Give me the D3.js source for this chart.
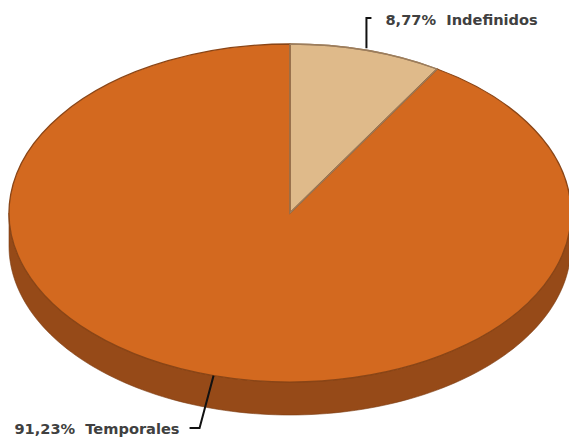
<!DOCTYPE html>
<html><head><meta charset="utf-8">
<script src="https://cdn.jsdelivr.net/npm/d3@7"></script>
<style>body{margin:0;background:#fff}svg{display:block}</style>
</head><body>
<svg id="c" width="569" height="438"></svg>
<script>
const categories = ["Indefinidos", "Temporales"];
const values = [8.77, 91.23];
const labels = ["8,77%", "91,23%"];
const colors = ["#DFBA8A", "#D3691F"];
const strokes = ["#9C7D5C", "#8A4516"];
const sideColor = "#964A18";

const W = 569, H = 438;
const cx = 290, cy = 213, rx = 281, ry = 169, depth = 33;
const svg = d3.select("#c");
const pie = d3.pie().sort(null).value(d => d)(values);

function pt(a, dy) { return [cx + rx * Math.sin(a), cy - ry * Math.cos(a) + (dy || 0)]; }

// side wall (front half)
pie.forEach((p, i) => {
  const a0 = Math.max(p.startAngle, Math.PI / 2), a1 = Math.min(p.endAngle, 3 * Math.PI / 2);
  if (a1 <= a0) return;
  const n = 120;
  const top = d3.range(n + 1).map(k => pt(a0 + (a1 - a0) * k / n));
  const bot = top.map(q => [q[0], q[1] + depth]).reverse();
  svg.append("path")
    .attr("d", d3.line()(top.concat(bot)) + "Z")
    .attr("fill", sideColor)
    .attr("stroke", "#7a3a10").attr("stroke-width", 0.6);
});

// top face
const arc = d3.arc().innerRadius(0).outerRadius(rx);
const g = svg.append("g").attr("transform", `translate(${cx},${cy}) scale(1,${ry / rx})`);
g.selectAll("path").data(pie).join("path")
  .attr("d", arc)
  .attr("fill", (d, i) => colors[i])
  .attr("stroke", (d, i) => strokes[i])
  .attr("stroke-width", 1.3)
  .attr("vector-effect", "non-scaling-stroke");
g.append("path").datum(pie[0]).attr("d", arc).attr("fill", "none")
  .attr("stroke", strokes[0]).attr("stroke-width", 1.3).attr("vector-effect", "non-scaling-stroke");

// labels
const font = "'DejaVu Sans', Verdana, sans-serif";
const fs = 14.6;
{
  const m = (pie[0].startAngle + pie[0].endAngle) / 2;
  const s = pt(m);
  const ty = 18;
  svg.append("path").attr("d", d3.line()([[s[0], s[1] - 2], [s[0], ty], [s[0] + 5, ty]]))
    .attr("fill", "none").attr("stroke", "#111").attr("stroke-width", 2);
  svg.append("text").attr("x", s[0] + 19).attr("y", ty + 7)
    .attr("font-family", font).attr("font-weight", "bold").attr("font-size", fs)
    .attr("fill", "#404040").attr("xml:space", "preserve")
    .text(labels[0] + "  " + categories[0]);
}
{
  const m = (pie[1].startAngle + pie[1].endAngle) / 2;
  const s = pt(m);
  const ey = 428, ex = s[0] - 14;
  svg.append("path").attr("d", d3.line()([[s[0], s[1]], [ex, ey], [ex - 10, ey]]))
    .attr("fill", "none").attr("stroke", "#111").attr("stroke-width", 2);
  svg.append("text").attr("x", ex - 20).attr("y", ey + 6).attr("text-anchor", "end")
    .attr("font-family", font).attr("font-weight", "bold").attr("font-size", fs)
    .attr("fill", "#404040").attr("xml:space", "preserve")
    .text(labels[1] + "  " + categories[1]);
}
</script>
</body></html>
